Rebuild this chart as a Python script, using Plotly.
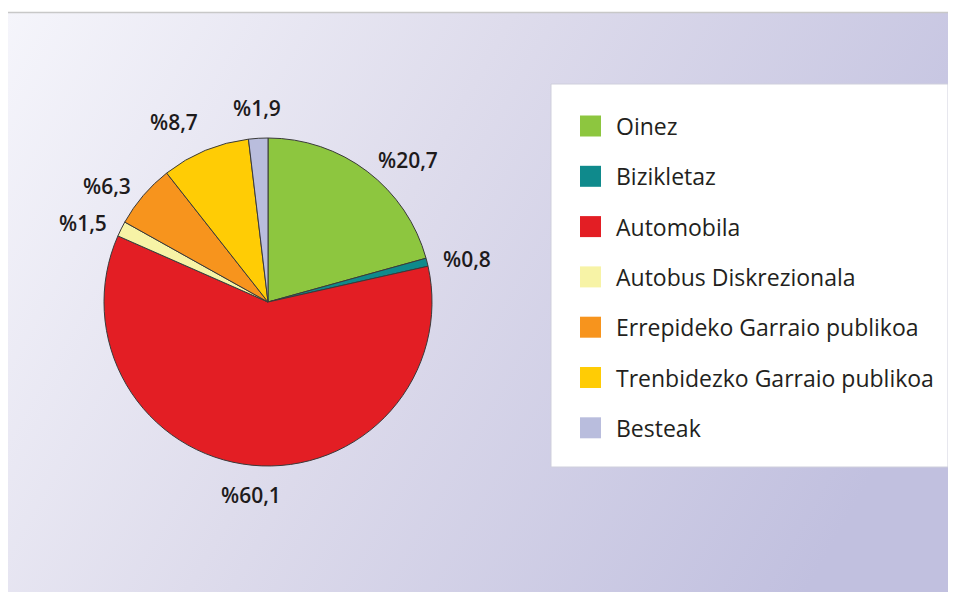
import math

import plotly.graph_objects as go

W, H = 956, 592
OFF = 8  # the page body adds an 8px margin, so layout pixels are shifted back by it

modes = [
    "Oinez",
    "Bizikletaz",
    "Automobila",
    "Autobus Diskrezionala",
    "Errepideko Garraio publikoa",
    "Trenbidezko Garraio publikoa",
    "Besteak",
]
shares = [20.7, 0.8, 60.1, 1.5, 6.3, 8.7, 1.9]
colors = ["#8dc63f", "#0f8a8c", "#e31e24", "#f7f3a6", "#f7941d", "#ffcc05", "#b9bddd"]

labels = ["%" + f"{v:.1f}".replace(".", ",") for v in shares]


def px_x(x):
    return (x - OFF) / W


def px_y(y):
    return 1 - (y - OFF) / H


# pie placement: centre (268, 302), radius 164 px
cx, cy, r = 268, 302, 164

fig = go.Figure(
    go.Pie(
        labels=modes,
        values=shares,
        sort=False,
        direction="clockwise",
        rotation=0,
        marker=dict(colors=colors, line=dict(color="#3a3a3a", width=1)),
        textinfo="none",
        showlegend=False,
        hoverinfo="label+percent",
        domain=dict(x=[px_x(cx - r), px_x(cx + r)], y=[px_y(cy + r), px_y(cy - r)]),
    )
)

# gradient background inside the frame
grad_svg = (
    "data:image/svg+xml;utf8,"
    "<svg xmlns='http://www.w3.org/2000/svg' width='100' height='100' preserveAspectRatio='none'>"
    "<defs><linearGradient id='g' x1='0' y1='0' x2='1' y2='0.35'>"
    "<stop offset='0' stop-color='%23f5f5fb'/>"
    "<stop offset='0.45' stop-color='%23dedcec'/>"
    "<stop offset='1' stop-color='%23c1c0df'/>"
    "</linearGradient></defs>"
    "<rect width='100' height='100' fill='url(%23g)'/></svg>"
)
fig.add_layout_image(
    source=grad_svg,
    xref="paper", yref="paper",
    x=px_x(7), y=px_y(12.5),
    sizex=1.05, sizey=1.05,
    xanchor="left", yanchor="top",
    sizing="stretch",
    layer="below",
)

shapes = [
    dict(type="rect", xref="paper", yref="paper",
         x0=px_x(7), x1=1.05, y0=-0.05, y1=px_y(12.5),
         line=dict(color="#c8c8c8", width=1.5), fillcolor="rgba(0,0,0,0)", layer="below"),
    # legend box
    dict(type="rect", xref="paper", yref="paper",
         x0=px_x(551), x1=px_x(948), y0=px_y(467), y1=px_y(84),
         line=dict(color="#cfcfdc", width=1), fillcolor="white", layer="above"),
]

annotations = []

# slice value labels, placed just outside the rim at each slice's mid angle
gap = 14
cum = 0.0
for lab, v in zip(labels, shares):
    mid = (cum + v / 2) / sum(shares) * 2 * math.pi
    cum += v
    s, c = math.sin(mid), math.cos(mid)
    xa = "left" if s > 0.2 else ("right" if s < -0.2 else "center")
    ya = "bottom" if c > 0.85 else ("top" if c < -0.85 else "middle")
    annotations.append(dict(
        xref="paper", yref="paper",
        x=px_x(cx + (r + gap) * s), y=px_y(cy - (r + gap) * c),
        text=lab, showarrow=False, xanchor=xa, yanchor=ya,
        font=dict(family="Open Sans", size=21, weight=600, color="#1e1b1c"),
    ))

# legend drawn as a boxed list
row0, step = 126, 50.3
for i, (name, col) in enumerate(zip(modes, colors)):
    yc = row0 + i * step
    shapes.append(dict(type="rect", xref="paper", yref="paper",
                       x0=px_x(580), x1=px_x(601), y0=px_y(yc + 10.5), y1=px_y(yc - 10.5),
                       line=dict(width=0), fillcolor=col, layer="above"))
    annotations.append(dict(xref="paper", yref="paper", x=px_x(614), y=px_y(yc),
                            text=name, showarrow=False, xanchor="left", yanchor="middle",
                            font=dict(family="Open Sans", size=23, color="#231f20")))

fig.update_layout(
    width=W, height=H,
    margin=dict(l=0, r=0, t=0, b=0),
    paper_bgcolor="white",
    plot_bgcolor="white",
    shapes=shapes,
    annotations=annotations,
    separators=",.",
)

fig.write_html("out.html")
